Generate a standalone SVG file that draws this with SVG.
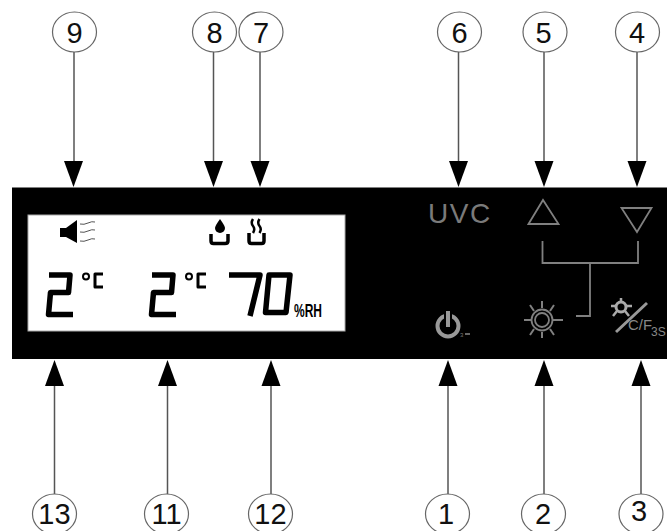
<svg xmlns="http://www.w3.org/2000/svg" width="667" height="531" viewBox="0 0 667 531">
<defs>
<style>
.c{fill:#fff;stroke:#666;stroke-width:1.2}
.n{font-family:"Liberation Sans",Arial,sans-serif;font-size:29px;fill:#111;text-anchor:middle}
.l{fill:none;stroke:#555;stroke-width:1.5}
.g{fill:none;stroke:#808080;stroke-width:1.8}
.d{fill:none;stroke:#000;stroke-width:5.500;stroke-linejoin:round;stroke-linecap:butt}
.t{fill:none;stroke:#000;stroke-width:3;stroke-linejoin:round}
</style>
</defs>
<rect width="667" height="531" fill="#fff"/>
<g id="panel"><rect x="12" y="187.500" width="655" height="171.500" fill="#000"/>
<rect x="28" y="215" width="317" height="116" fill="#fff" stroke="#aaa" stroke-width="1"/></g>
<g id="connectors">
<path class="l" d="M74 52V165M213.500 52V165M260 52V165M458.500 52V165M544 52V165M637 52V165M54.500 494V382M167.500 494V382M271 494V382M448 494V382M544 494V382M641 494V382"/>
<g fill="#000">
<path d="M64 161H83L73.500 187Z"/><path d="M204 161H223L213.500 187Z"/><path d="M250.500 161H269.500L260 187Z"/><path d="M449 161H468L458.500 187Z"/><path d="M534.500 161H553.500L544 187Z"/><path d="M627.500 161H646.500L637 187Z"/>
<path d="M45 386H64L54.500 360Z"/><path d="M158 386H177L167.500 360Z"/><path d="M261.500 386H280.500L271 360Z"/><path d="M438.500 386H457.500L448 360Z"/><path d="M534.500 386H553.500L544 360Z"/><path d="M631.500 386H650.500L641 360Z"/>
</g></g>
<g id="n9"><ellipse class="c" cx="74.500" cy="32" rx="22" ry="20"/><text class="n" x="74.500" y="42.500">9</text></g>
<g id="n8"><ellipse class="c" cx="214.500" cy="32" rx="22" ry="20"/><text class="n" x="214.500" y="42.500">8</text></g>
<g id="n7"><ellipse class="c" cx="261" cy="32" rx="22" ry="20"/><text class="n" x="261" y="42.500">7</text></g>
<g id="n6"><ellipse class="c" cx="459.500" cy="32" rx="22" ry="20"/><text class="n" x="459.500" y="42.500">6</text></g>
<g id="n5"><ellipse class="c" cx="545" cy="32" rx="22" ry="20"/><text class="n" x="543.500" y="42.500">5</text></g>
<g id="n4"><ellipse class="c" cx="637.500" cy="32" rx="22" ry="20"/><text class="n" x="637" y="42.500">4</text></g>
<g id="n13"><ellipse class="c" cx="54.500" cy="514" rx="22" ry="20"/><text class="n" x="54.500" y="523.500">13</text></g>
<g id="n11"><ellipse class="c" cx="166.500" cy="514" rx="22" ry="20"/><text class="n" x="166.500" y="523.500">11</text></g>
<g id="n12"><ellipse class="c" cx="270.500" cy="514" rx="22" ry="20"/><text class="n" x="270.500" y="523.500">12</text></g>
<g id="n1"><ellipse class="c" cx="447.500" cy="514" rx="22" ry="20"/><text class="n" x="446" y="523.500">1</text></g>
<g id="n2"><ellipse class="c" cx="543.500" cy="514" rx="22" ry="20"/><text class="n" x="543" y="523.500">2</text></g>
<g id="n3"><ellipse class="c" cx="641" cy="514" rx="22" ry="20"/><text class="n" x="639" y="521">3</text></g>
<g id="lcd">
<path d="M60 228H66L77 220V243L66 237H60Z" fill="#000"/>
<path d="M80 224Q84 225 88 223T95 222M80 232Q84 233 88 231T95 230M80 241Q84 242 88 240T95 239" fill="none" stroke="#555" stroke-width="1"/>
<path d="M220 219Q225 226 225 228A5 5 0 0 1 215 228Q215 226 220 219Z" fill="#000"/>
<path class="t" stroke-width="3.500" style="stroke-width:3.500px" d="M211 234V241Q211 243.500 213.500 243.500H225Q228 243.500 228 241V234"/>
<path class="t" style="stroke-width:3.500px" d="M249 233V241Q249 243.500 251.500 243.500H261.500Q264 243.500 264 241V233"/>
<path d="M253 219Q250.500 223 253 226Q255.500 229 253 233M259.500 219Q257 223 259.500 226Q262 229 259.500 233" fill="none" stroke="#000" stroke-width="2.500"/>
<path class="d" d="M49 275H70L68.500 292.500H50.500L48.500 314.500H73"/>
<path class="d" d="M152 275H173L171.500 292.500H153.500L151.500 314.500H176"/>
<path class="d" d="M229 275H260L250 316"/>
<path class="d" d="M269 275H290L286 312.500H265.500Z"/>
<circle cx="86" cy="276.500" r="3" fill="none" stroke="#000" stroke-width="2"/><path class="t" d="M103 274H95V287H103"/>
<circle cx="189" cy="276.500" r="3" fill="none" stroke="#000" stroke-width="2"/><path class="t" d="M206 274H198V287H206"/>
<text x="294" y="317" font-family="Liberation Sans,sans-serif" font-size="18" font-weight="bold" fill="#000" textLength="28" lengthAdjust="spacingAndGlyphs">%RH</text>
</g>
<g id="keys">
<text x="428" y="223" font-family="Liberation Sans,sans-serif" font-size="28" letter-spacing="1.500" fill="#7a7a7a">UVC</text>
<path class="g" d="M528.500 224L543 200L558.500 224Z"/>
<path class="g" d="M621.500 208H651.500L637 232Z"/>
<path class="g" d="M542.500 241V263H638V241M590 263V316H576"/>
<g id="power"><circle cx="448" cy="326" r="10.500" fill="none" stroke="#999" stroke-width="4"/><path d="M448 309V328" stroke="#000" stroke-width="8"/><path d="M448 311V327" stroke="#999" stroke-width="4"/>
<text x="460" y="337" font-family="Liberation Sans,sans-serif" font-size="6" fill="#777">3</text><path d="M465 334H470" stroke="#888" stroke-width="1.500"/></g>
<g id="sun" class="g"><circle cx="542" cy="320" r="10.500"/><circle cx="542" cy="320" r="7"/><path d="M542 301V308M542 332V338M524 320H531M553 320H563M530 305L534 311M550 329L554 335M554 305L550 311M534 329L530 335" stroke-width="2"/></g>
<g id="light"><circle cx="621" cy="307" r="5" fill="none" stroke="#aaa" stroke-width="3"/><path d="M621 298V302M611 306H616M626 306H632M613 316L617 311M629 316L625 311" stroke="#aaa" stroke-width="2.500"/><path d="M616 332L647 303" stroke="#999" stroke-width="3"/>
<text x="628" y="330" font-family="Liberation Sans,sans-serif" font-size="15" fill="#888" textLength="24" lengthAdjust="spacingAndGlyphs">C/F</text><text x="651" y="336" font-family="Liberation Sans,sans-serif" font-size="12" fill="#888">3S</text></g>
</g>
</svg>
